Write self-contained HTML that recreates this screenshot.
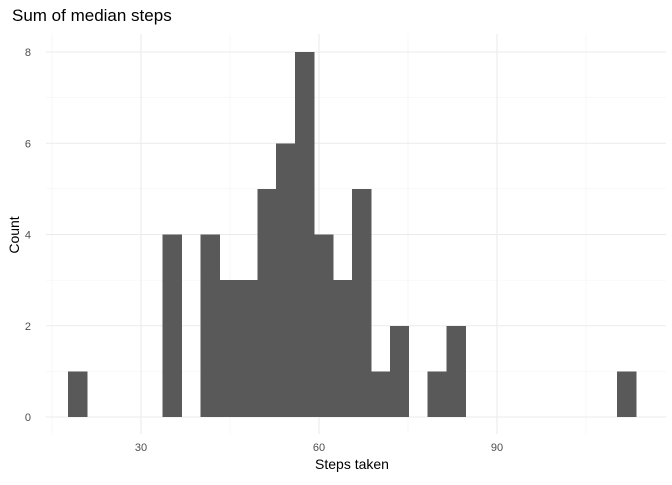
<!DOCTYPE html>
<html><head><meta charset="utf-8"><style>
body{margin:0;background:#fff;font-family:"Liberation Sans",sans-serif}
</style></head><body>
<svg id="chart" width="672" height="480" xmlns="http://www.w3.org/2000/svg">
<rect width="672" height="480" fill="#fff"/>
<g id="grid"></g><g id="bars" shape-rendering="crispEdges"></g><g id="ticks"></g>
<text x="12" y="21" font-size="17" fill="#000">Sum of median steps</text>
<text x="352" y="469" font-size="14" text-anchor="middle" fill="#000">Steps taken</text>
<text transform="translate(19,235) rotate(-90)" font-size="14" text-anchor="middle" fill="#000">Count</text>
</svg>
<script>
const binStart = 17.7;
const binWidth = 3.19;
const counts = [1,0,0,0,0,4,0,4,3,3,5,6,8,4,3,5,1,2,0,1,2,0,0,0,0,0,0,0,0,1];
const xTicks = [30,60,90];
const xMinor = [15,45,75,105];
const yTicks = [0,2,4,6,8];
const yMinor = [1,3,5,7];
const ns="http://www.w3.org/2000/svg";
const X=v=>141+(v-30)*(178/30);
const Y=v=>417-v*(365/8);
const L=46,R=666;
function mk(t,a,p){const e=document.createElementNS(ns,t);for(const k in a)e.setAttribute(k,a[k]);p.appendChild(e);return e;}
const g=document.getElementById('grid'),b=document.getElementById('bars'),tk=document.getElementById('ticks');
yMinor.forEach(v=>{const e=mk('line',{x1:L,x2:R,y1:Y(v),y2:Y(v),stroke:'#f2f2f2','stroke-width':0.6},g);

});
xMinor.forEach(v=>{const e=mk('line',{x1:X(v),x2:X(v),y1:34,y2:434,stroke:'#f2f2f2','stroke-width':0.6},g);

});
yTicks.forEach(v=>{const e=mk('line',{x1:L,x2:R,y1:Y(v),y2:Y(v),stroke:'#ebebeb','stroke-width':1.1},g);


const t=mk('text',{x:31,y:Y(v)+4,'font-size':11,'text-anchor':'end',fill:'#4d4d4d'},tk);t.textContent=v;

});
xTicks.forEach(v=>{const e=mk('line',{x1:X(v),x2:X(v),y1:34,y2:434,stroke:'#ebebeb','stroke-width':1.1},g);


const t=mk('text',{x:X(v),y:451,'font-size':11,'text-anchor':'middle',fill:'#4d4d4d'},tk);t.textContent=v;

});
counts.forEach((c,i)=>{if(!c)return;const x0=X(binStart+i*binWidth),x1=X(binStart+(i+1)*binWidth);
const r=mk('rect',{x:x0,y:Y(c),width:x1-x0+0.5,height:Y(0)-Y(c),fill:'#595959'},b);

});
</script>
</body></html>
